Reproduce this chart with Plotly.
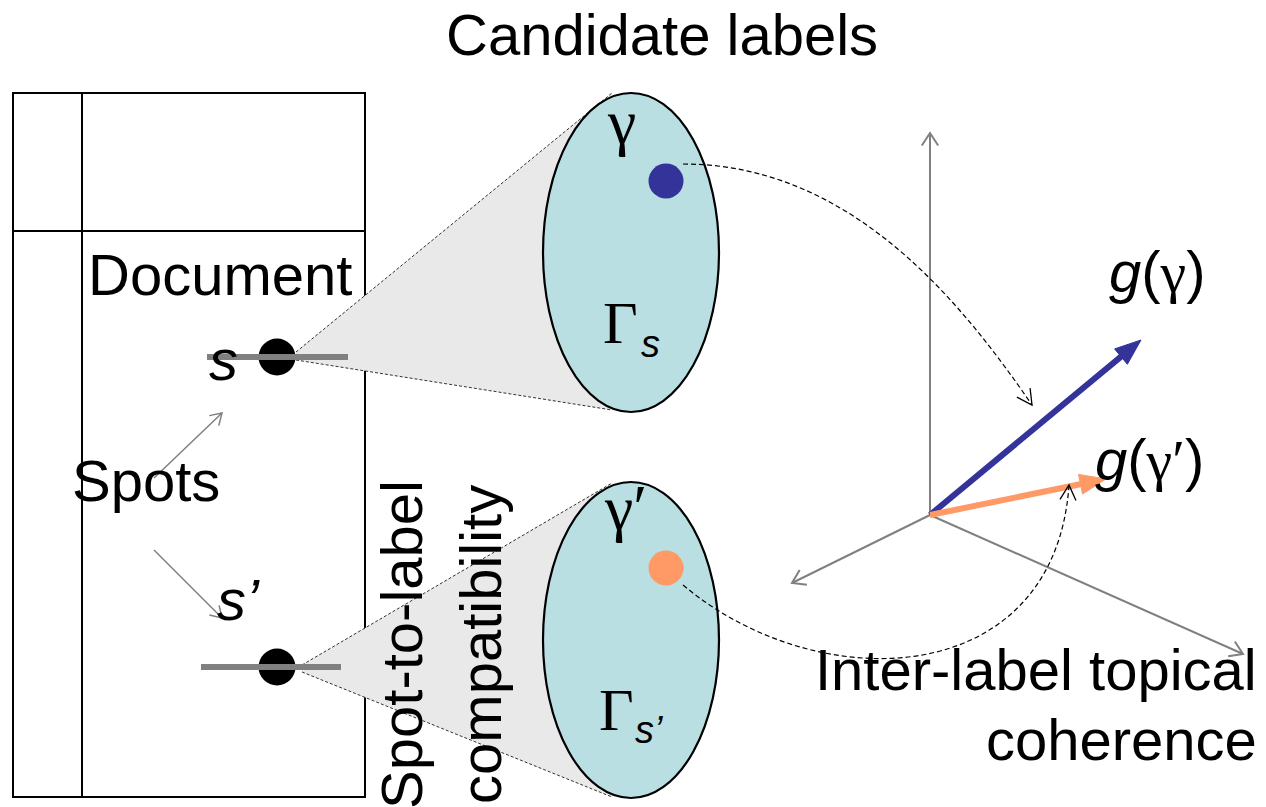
import math
import plotly.graph_objects as go

W, H = 1266, 807
PAGE_MARGIN = 8  # default HTML body margin of the written page
SANS = "Liberation Sans, Arial, sans-serif"
SERIF = "Liberation Serif, Times New Roman, serif"

# ---------------- diagram data (pixel space of the 1266x807 canvas) ----------------
DOC_BOX = [13, 93, 365, 797]          # x0, y0, x1, y1
DOC_VLINE_X = 82
DOC_HLINE_Y = 231

SPOT_NAMES = ["s", "s'"]
SPOT_X = [277, 277]
SPOT_Y = [357, 667]
SPOT_BAR_X = [(207, 348), (201, 341)]

ELLIPSE_CX = [631, 631]
ELLIPSE_CY = [252.5, 640]
ELLIPSE_RX = [88, 88]
ELLIPSE_RY = [159.5, 158]

# cones: apex top/bottom start, tangent points on ellipse
CONE_APEX = [[(296, 352), (296, 360)], [(302, 665), (302, 672)]]
CONE_ENDS = [[(612, 93), (612, 410)], [(612, 483), (612, 797)]]

LABEL_NAMES = ["γ", "γ′"]
LABEL_DOT_X = [666, 666]
LABEL_DOT_Y = [181, 568]
LABEL_COLORS = ["#333399", "#FF9966"]

ORIGIN = (930, 515)
AXIS_TIPS = [(930, 133), (792, 583), (1243, 654)]
VECTOR_TIPS = [(1141, 340), (1106, 479)]

SPOT_ARROWS = [((154, 478), (222, 413)), ((154, 550), (222, 618))]

# dashed bezier curves: P0, P1, P2, P3
CURVES = [
    [(683, 164), (850, 164), (960, 300), (1032, 405)],
    [(683, 585), (820, 700), (1055, 690), (1069, 485)],
]

GRAY = "#808080"
shapes = []


def line(x0, y0, x1, y1, color, width, dash=None, layer="above"):
    d = dict(type="line", x0=x0, y0=y0, x1=x1, y1=y1, xref="x", yref="y",
             line=dict(color=color, width=width), layer=layer)
    if dash:
        d["line"]["dash"] = dash
    shapes.append(d)


def unit(a, b):
    dx, dy = b[0] - a[0], b[1] - a[1]
    n = math.hypot(dx, dy)
    return dx / n, dy / n


def open_head(tip, ux, uy, length, half_deg, color, width):
    a = math.radians(half_deg)
    pts = []
    for s in (1, -1):
        c, si = math.cos(s * a), math.sin(s * a)
        rx = ux * c - uy * si
        ry = ux * si + uy * c
        pts.append((tip[0] - rx * length, tip[1] - ry * length))
    path = f"M {pts[0][0]},{pts[0][1]} L {tip[0]},{tip[1]} L {pts[1][0]},{pts[1][1]}"
    shapes.append(dict(type="path", path=path, xref="x", yref="y",
                       line=dict(color=color, width=width)))


def filled_head(tip, ux, uy, length, half_w, color):
    bx, by = tip[0] - ux * length, tip[1] - uy * length
    px, py = -uy, ux
    p1 = (bx + px * half_w, by + py * half_w)
    p2 = (bx - px * half_w, by - py * half_w)
    path = f"M {tip[0]},{tip[1]} L {p1[0]},{p1[1]} L {p2[0]},{p2[1]} Z"
    shapes.append(dict(type="path", path=path, xref="x", yref="y",
                       fillcolor=color, line=dict(color=color, width=1)))
    return bx, by


# document
shapes.append(dict(type="rect", x0=DOC_BOX[0], y0=DOC_BOX[1], x1=DOC_BOX[2], y1=DOC_BOX[3],
                   xref="x", yref="y", line=dict(color="black", width=2), layer="below"))
line(DOC_VLINE_X, DOC_BOX[1], DOC_VLINE_X, DOC_BOX[3], "black", 2, layer="below")
line(DOC_BOX[0], DOC_HLINE_Y, DOC_BOX[2], DOC_HLINE_Y, "black", 2, layer="below")

# cones and ellipses
for i in range(2):
    (ax0, ay0), (ax1, ay1) = CONE_APEX[i]
    (ex0, ey0), (ex1, ey1) = CONE_ENDS[i]
    cx, cy = ELLIPSE_CX[i], ELLIPSE_CY[i]
    path = f"M {ax0},{ay0} L {ex0},{ey0} L {cx},{cy} L {ex1},{ey1} L {ax1},{ay1} Z"
    shapes.append(dict(type="path", path=path, xref="x", yref="y", fillcolor="#E9E9E9",
                       line=dict(width=0), layer="below"))
    line(ax0, ay0, ex0, ey0, "#333333", 1, dash="3px,2px", layer="below")
    line(ax1, ay1, ex1, ey1, "#333333", 1, dash="3px,2px", layer="below")
    shapes.append(dict(type="circle", xref="x", yref="y",
                       x0=cx - ELLIPSE_RX[i], x1=cx + ELLIPSE_RX[i],
                       y0=cy - ELLIPSE_RY[i], y1=cy + ELLIPSE_RY[i],
                       fillcolor="#BADFE2", line=dict(color="black", width=2.2), layer="below"))

# spot bars (drawn over the spot dots)
for (bx0, bx1), sy in zip(SPOT_BAR_X, SPOT_Y):
    line(bx0, sy, bx1, sy, GRAY, 6)

# spot arrows
for (a, b) in SPOT_ARROWS:
    line(a[0], a[1], b[0], b[1], GRAY, 1.5)
    ux, uy = unit(a, b)
    open_head(b, ux, uy, 13, 32, GRAY, 1.5)

# 3D axes
for tip in AXIS_TIPS:
    line(ORIGIN[0], ORIGIN[1], tip[0], tip[1], GRAY, 2)
    ux, uy = unit(ORIGIN, tip)
    open_head(tip, ux, uy, 15, 33, GRAY, 2)

# label vectors
for tip, col in zip(VECTOR_TIPS, LABEL_COLORS):
    ux, uy = unit(ORIGIN, tip)
    bx, by = filled_head(tip, ux, uy, 26, 10, col)
    line(ORIGIN[0], ORIGIN[1], bx + ux * 2, by + uy * 2, col, 6)

# dashed curves
for P in CURVES:
    path = (f"M {P[0][0]},{P[0][1]} C {P[1][0]},{P[1][1]} "
            f"{P[2][0]},{P[2][1]} {P[3][0]},{P[3][1]}")
    shapes.append(dict(type="path", path=path, xref="x", yref="y",
                       line=dict(color="black", width=1.2, dash="5px,3px")))
    ux, uy = unit(P[2], P[3])
    open_head(P[3], ux, uy, 17, 28, "black", 1.3)

# ---------------- traces: dots ----------------
fig = go.Figure()
fig.add_trace(go.Scatter(x=SPOT_X, y=SPOT_Y, mode="markers", text=SPOT_NAMES,
                         marker=dict(size=37, color="black", line=dict(width=0)),
                         hoverinfo="text", showlegend=False))
fig.add_trace(go.Scatter(x=LABEL_DOT_X, y=LABEL_DOT_Y, mode="markers", text=LABEL_NAMES,
                         marker=dict(size=35, color=LABEL_COLORS, line=dict(width=0)),
                         hoverinfo="text", showlegend=False))

# ---------------- text ----------------
annotations = []


def txt(x, y, text, size, family=SANS, xanchor="center", yanchor="middle", angle=0):
    annotations.append(dict(x=x, y=y, xref="x", yref="y", text=text, showarrow=False,
                            xanchor=xanchor, yanchor=yanchor, textangle=angle,
                            font=dict(size=size, family=family, color="black")))


F = 58
C_SANS = 0.3465
C_SERIF = 0.3375
txt(662, 55 - C_SANS * F, "Candidate labels", F)
txt(220, 295 - C_SANS * F, "Document", F)
txt(146, 501 - C_SANS * F, "Spots", F)
txt(223, 380 - C_SANS * F, "<i>s</i>", F)
txt(238, 620 - C_SANS * F, "<i>s’</i>", F)
txt(421 - C_SANS * F, 644, "Spot-to-label", F, angle=-90)
txt(500 - C_SANS * F, 644, "compatibility", F, angle=-90)
txt(1259, 690 - C_SANS * F, "Inter-label topical", F, xanchor="right")
txt(1259, 760 - C_SANS * F, "coherence", F, xanchor="right")
txt(1107, 292 - C_SANS * F,
    "<i>g</i>(<span style='font-family:Liberation Serif'>γ</span>)", F, xanchor="left")
txt(1093, 480 - C_SANS * F,
    "<i>g</i>(<span style='font-family:Liberation Serif'>γ′</span>)", F, xanchor="left")

# ellipse labels
txt(621, 143 - C_SERIF * 64, LABEL_NAMES[0], 64, family=SERIF)
txt(625, 529 - C_SERIF * 64, LABEL_NAMES[1], 64, family=SERIF)
txt(620, 343 - C_SERIF * 60, "Γ", 60, family=SERIF)
txt(616, 730 - C_SERIF * 60, "Γ", 60, family=SERIF)
txt(650, 357 - C_SANS * 38, "<i>s</i>", 38)
txt(649, 743 - C_SANS * 38, "<i>s’</i>", 38)

# the page puts the figure PAGE_MARGIN px in from the top-left corner, so the figure is
# shrunk by that much and its ranges start there, keeping canvas pixel = page pixel
fig.update_layout(
    width=W - PAGE_MARGIN, height=H - PAGE_MARGIN,
    margin=dict(l=0, r=0, t=0, b=0, pad=0),
    paper_bgcolor="white", plot_bgcolor="white",
    xaxis=dict(range=[PAGE_MARGIN, W], visible=False, fixedrange=True),
    yaxis=dict(range=[H, PAGE_MARGIN], visible=False, fixedrange=True),
    shapes=shapes, annotations=annotations, showlegend=False,
)
fig.write_html("out.html")
